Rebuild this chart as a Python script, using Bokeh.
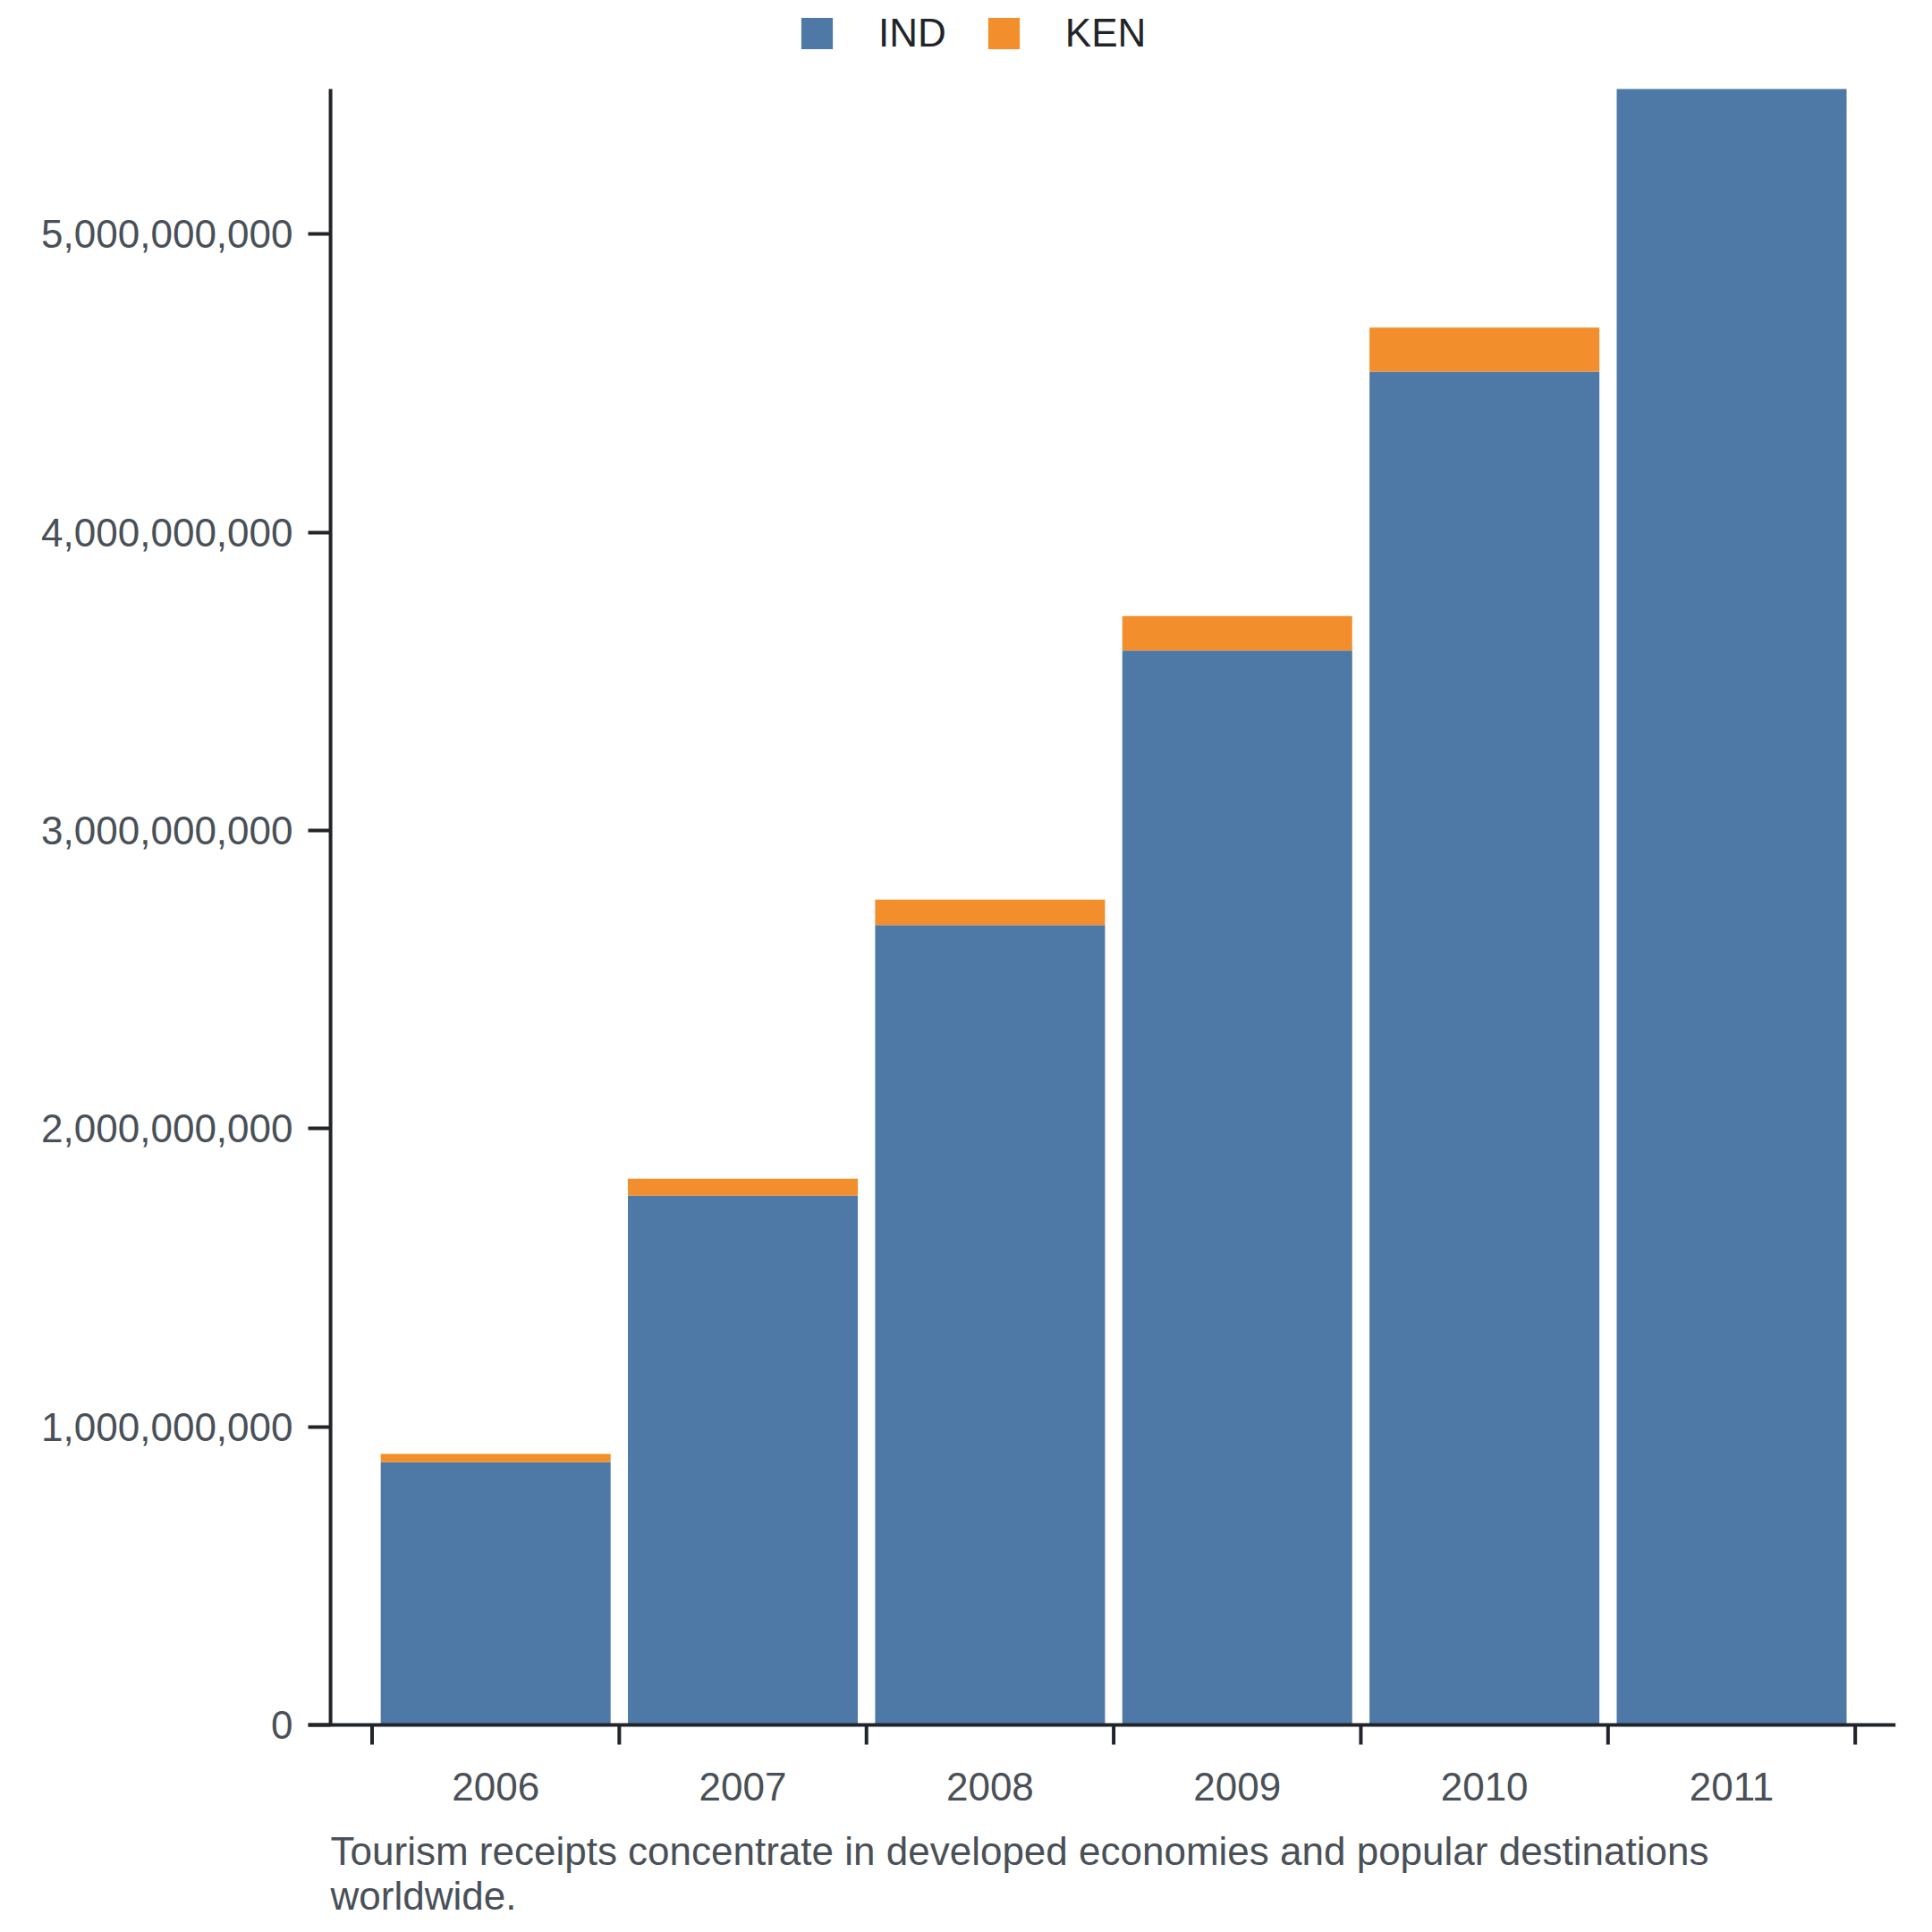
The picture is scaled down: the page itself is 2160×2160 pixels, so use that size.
import math
from bokeh.plotting import figure
from bokeh.models import (ColumnDataSource, Range1d, FixedTicker, NumeralTickFormatter,
                          Legend, Span)
from bokeh.core.properties import value
from bokeh.embed import file_html
from bokeh.resources import INLINE

years = ["2006", "2007", "2008", "2009", "2010", "2011"]
ind = [0.881e9, 1.775e9, 2.683e9, 3.604e9, 4.539e9, 5.487e9]
ken = [0.028e9, 0.057e9, 0.085e9, 0.115e9, 0.148e9, 0.0]
y_ticks = [0, 1e9, 2e9, 3e9, 4e9, 5e9]
caption = ("Tourism receipts concentrate in developed economies and popular destinations\n"
           "worldwide.")

BLUE = "#4e79a7"
ORANGE = "#f28e2b"
AXIS = "#212529"
TEXT = "#495057"
FONT = "Liberation Sans"

W, H = 2144, 2144
AXIS_Y = 1928      # pixel row of the x axis
TOP_Y = 99         # pixel row of the top of the value scale
YAX_X = -0.668     # x position of the y axis line (band units)

xs = list(range(len(years)))
edges = [i - 0.5 for i in range(len(years) + 1)]
src = ColumnDataSource(data=dict(x=xs, IND=ind, KEN=ken))
top = max(a + b for a, b in zip(ind, ken))
span_px = AXIS_Y - TOP_Y

p = figure(
    width=W, height=H,
    x_range=Range1d(-0.7587, 5.664),
    y_range=Range1d(-top * (H - AXIS_Y) / span_px, top * AXIS_Y / span_px),
    output_backend="svg",
    toolbar_location=None,
    min_border_left=344, min_border_right=25,
    min_border_top=0, min_border_bottom=0,
)
p.outline_line_color = None
p.xgrid.visible = False
p.ygrid.visible = False
p.xaxis.visible = False

rs = p.vbar_stack(["IND", "KEN"], x="x", width=0.93, color=[BLUE, ORANGE],
                  line_color=None, source=src)

# x axis drawn by hand: line, edge ticks, year labels
p.add_layout(Span(location=0, dimension="width", line_color=AXIS, line_width=4))
p.ray(x=edges, y=0, length=22, length_units="screen", angle=-math.pi / 2,
      line_color=AXIS, line_width=4)
p.text(x=xs, y=0, text=years, y_offset=69, text_align="center", text_baseline="middle",
       text_font=value(FONT), text_font_size="44px", text_color=TEXT)

# y axis
ya = p.yaxis[0]
ya.ticker = FixedTicker(ticks=y_ticks)
ya.formatter = NumeralTickFormatter(format="0,0")
ya.axis_line_color = None
ya.major_tick_in = 25
ya.major_tick_out = 0
ya.major_tick_line_color = AXIS
ya.major_tick_line_width = 4
ya.minor_tick_line_color = None
ya.major_label_standoff = 17
ya.major_label_text_font = FONT
ya.major_label_text_font_size = "44px"
ya.major_label_text_color = TEXT
p.segment(x0=[YAX_X], y0=[0], x1=[YAX_X], y1=[top], line_color=AXIS, line_width=4)

# caption under the axis
p.text(x=[YAX_X], y=[0], text=[caption], y_offset=116, text_align="left",
       text_baseline="top", text_font=value(FONT), text_font_size="44px",
       text_color=TEXT, text_line_height=1.03)

legend = Legend(
    items=[("IND", [rs[0]]), ("KEN", [rs[1]])],
    orientation="horizontal",
    location=(547, H - 62),
    glyph_width=44, glyph_height=44,
    label_standoff=47, spacing=42,
    padding=0, margin=0,
    border_line_color=None, background_fill_alpha=0,
    label_text_font=FONT, label_text_font_size="44px", label_text_color=AXIS,
)
p.add_layout(legend)

open("out.html", "w").write(file_html(p, INLINE))
